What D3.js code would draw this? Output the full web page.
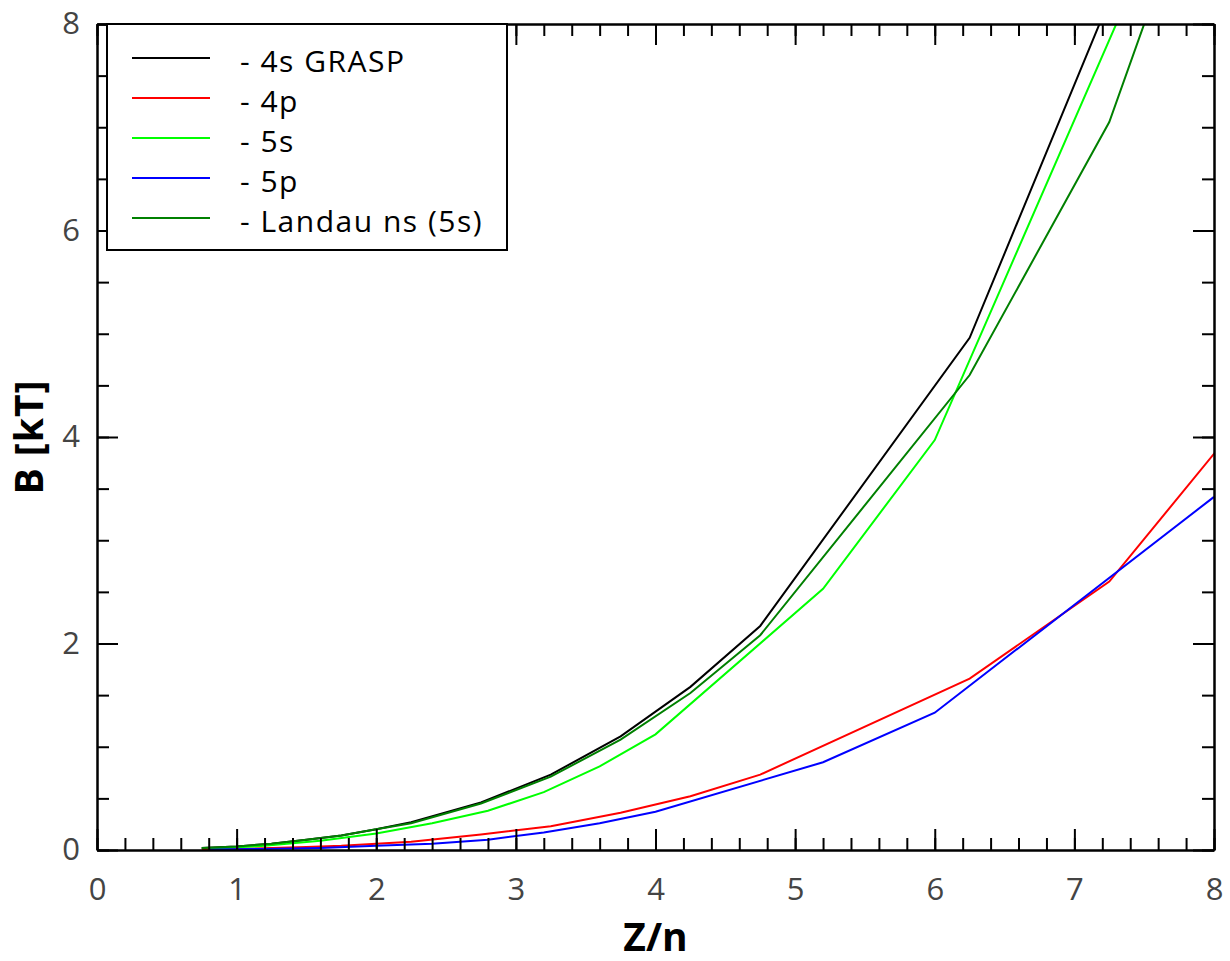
<!DOCTYPE html>
<html lang="en">
<head>
    <meta charset="utf-8">
    <title>B vs Z/n</title>
    <script src="https://d3js.org/d3.v7.min.js"></script>
    <style>
        body {
            margin: 0;
            background: #fff;
            font-family: "Open Sans", sans-serif;
        }
        .tick text {
            fill: #444;
            font-size: 31px;
        }
        .axis path, .axis line {
            stroke: #000;
            stroke-width: 2px;
        }
    </style>
</head>
<body>
    <svg id="chart" width="1230" height="961"></svg>

    <script>
        // Series: [Z/n, B in kT]
        const grasp4s = [[0.75, 0.02], [1.0, 0.035], [1.25, 0.06], [1.5, 0.1], [1.75, 0.14], [2.0, 0.2], [2.25, 0.27],
            [2.75, 0.46], [3.25, 0.73], [3.75, 1.1], [4.25, 1.58], [4.75, 2.17], [6.25, 4.96], [7.25, 8.23]];
        const p4 = [[0.75, 0.005], [1.0, 0.01], [1.25, 0.02], [1.5, 0.03], [1.75, 0.04], [2.0, 0.06], [2.25, 0.08],
            [2.75, 0.15], [3.25, 0.23], [3.75, 0.36], [4.25, 0.52], [4.75, 0.73], [6.25, 1.66], [7.25, 2.6], [8.25, 4.25]];
        const s5 = [[0.8, 0.01], [1.2, 0.04], [1.6, 0.09], [2.0, 0.16], [2.4, 0.26], [2.8, 0.38], [3.2, 0.56],
            [3.6, 0.81], [4.0, 1.12], [5.2, 2.53], [6.0, 3.97], [7.6, 8.93]];
        const p5 = [[0.8, 0.005], [1.2, 0.01], [1.6, 0.02], [2.0, 0.04], [2.4, 0.06], [2.8, 0.1], [3.2, 0.17],
            [3.6, 0.26], [4.0, 0.37], [5.2, 0.85], [6.0, 1.33], [8.0, 3.42]];
        const landau5s = [[0.75, 0.02], [1.0, 0.035], [1.25, 0.06], [1.5, 0.1], [1.75, 0.14], [2.0, 0.2], [2.25, 0.26],
            [2.75, 0.45], [3.25, 0.71], [3.75, 1.07], [4.25, 1.52], [4.75, 2.08], [6.25, 4.6], [7.25, 7.05], [8.25, 10.85]];

        const seriesNames = ["- 4s GRASP", "- 4p", "- 5s", "- 5p", "- Landau ns (5s)"];
        const seriesColors = ["#000000", "#ff0000", "#00ff00", "#0000ff", "#008000"];
        const seriesData = [grasp4s, p4, s5, p5, landau5s];

        const xMajor = [0, 1, 2, 3, 4, 5, 6, 7, 8];
        const xMinor = d3.range(0, 8.001, 0.2);
        const yMajor = [0, 2, 4, 6, 8];
        const yMinor = d3.range(0, 8.001, 0.5);

        const m = { left: 97, right: 1214, top: 24, bottom: 850 };
        const svg = d3.select("#chart");

        const x = d3.scaleLinear().domain([0, 8]).range([m.left, m.right]);
        const y = d3.scaleLinear().domain([0, 8]).range([m.bottom, m.top]);

        svg.append("defs").append("clipPath").attr("id", "plot-clip")
            .append("rect")
            .attr("x", m.left).attr("y", m.top)
            .attr("width", m.right - m.left).attr("height", m.bottom - m.top);

        // lines
        const line = d3.line().x(d => x(d[0])).y(d => y(d[1]));
        svg.append("g")
            .attr("clip-path", "url(#plot-clip)")
            .selectAll("path")
            .data(seriesData)
            .enter().append("path")
            .attr("d", line)
            .attr("fill", "none")
            .attr("stroke", (d, i) => seriesColors[i])
            .attr("stroke-width", 2);

        // axes: minor ticks then major ticks on all four sides, pointing inward
        function addAxis(axisFn, scale, transform, values, size, labels) {
            const ax = axisFn(scale).tickValues(values).tickSize(-size).tickSizeOuter(0);
            if (labels) ax.tickPadding(axisFn === d3.axisBottom ? 28 : 17).tickFormat(d3.format("d"));
            else ax.tickFormat("");
            const g = svg.append("g").attr("class", "axis").attr("transform", transform).call(ax);
            g.selectAll("text").style("font-family", "'Open Sans', sans-serif");
            return g;
        }
        addAxis(d3.axisBottom, x, `translate(0,${m.bottom})`, xMinor, 12, false);
        addAxis(d3.axisBottom, x, `translate(0,${m.bottom})`, xMajor, 21, true);
        addAxis(d3.axisTop, x, `translate(0,${m.top})`, xMinor, 12, false);
        addAxis(d3.axisTop, x, `translate(0,${m.top})`, xMajor, 21, false);
        addAxis(d3.axisLeft, y, `translate(${m.left},0)`, yMinor, 12, false);
        addAxis(d3.axisLeft, y, `translate(${m.left},0)`, yMajor, 21, true);
        addAxis(d3.axisRight, y, `translate(${m.right},0)`, yMinor, 12, false);
        addAxis(d3.axisRight, y, `translate(${m.right},0)`, yMajor, 21, false);

        // axis titles
        svg.append("text")
            .attr("x", (m.left + m.right) / 2)
            .attr("y", 951)
            .attr("text-anchor", "middle")
            .style("font-size", "39px")
            .style("font-weight", "bold")
            .text("Z/n");

        svg.append("text")
            .attr("transform", `translate(43,${(m.top + m.bottom) / 2}) rotate(-90)`)
            .attr("text-anchor", "middle")
            .style("font-size", "39px")
            .style("font-weight", "bold")
            .style("letter-spacing", "1px")
            .text("B [kT]");

        // legend
        const legend = svg.append("g");
        legend.append("rect")
            .attr("x", 107).attr("y", 24)
            .attr("width", 400).attr("height", 226)
            .attr("fill", "#fff")
            .attr("stroke", "#000")
            .attr("stroke-width", 2);

        const rows = legend.selectAll("g.row")
            .data(seriesNames)
            .enter().append("g")
            .attr("transform", (d, i) => `translate(0,${58 + i * 40})`);
        rows.append("line")
            .attr("x1", 132).attr("x2", 210)
            .attr("stroke", (d, i) => seriesColors[i])
            .attr("stroke-width", 2);
        rows.append("text")
            .attr("x", 240)
            .attr("y", 14)
            .style("font-size", "30px")
            .style("letter-spacing", "1.5px")
            .text(d => d);
    </script>
</body>
</html>
